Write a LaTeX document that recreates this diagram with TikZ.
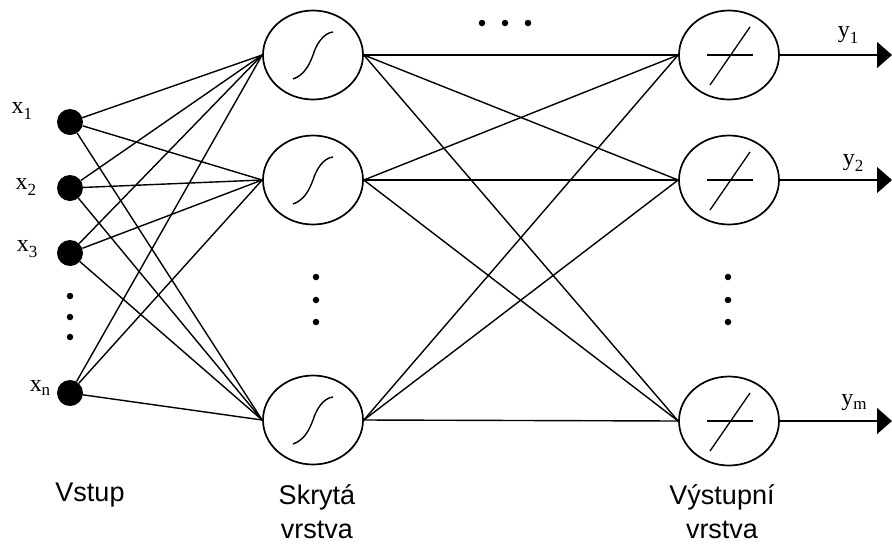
\documentclass[tikz,border=0pt]{standalone}
\usepackage{fontspec}
\setmainfont{Liberation Serif}
\newfontfamily\labelsans{Liberation Sans}
\usetikzlibrary{shapes.geometric,arrows.meta}
\begin{document}
\begin{tikzpicture}[x=1pt,y=-1pt,
  neuron/.style={draw,line width=1.7pt,ellipse,minimum width=100pt,minimum height=89pt,inner sep=0pt},
  inp/.style={circle,fill=black,minimum size=26pt,inner sep=0pt},
  conn/.style={line width=1.4pt},
  sdot/.style={circle,fill=black,minimum size=6.5pt,inner sep=0pt},
  lab/.style={font=\fontsize{24}{24}\selectfont,inner sep=0pt},
  caption/.style={font=\labelsans\fontsize{27}{34}\selectfont,align=center,inner sep=0pt},
  outarrow/.style={line width=1.6pt,-{Triangle[length=15pt,width=26pt]}}]
\useasboundingbox (0,0) rectangle (892,547);
% input nodes
\node[inp] (i1) at (70,122) {};
\node[inp] (i2) at (70,188) {};
\node[inp] (i3) at (70,253) {};
\node[inp] (in) at (70,393) {};
\node[sdot] (vd1) at (70,296) {};
\node[sdot] (vd2) at (70,317) {};
\node[sdot] (vd3) at (70,337) {};
% hidden
\node[neuron] (h1) at (313,55) {};
\node[neuron] (h2) at (313,180) {};
\node[neuron] (h3) at (313,420) {};
\node[sdot] (hd1) at (316,277) {};
\node[sdot] (hd2) at (316,300) {};
\node[sdot] (hd3) at (316,322) {};
% output
\node[neuron] (o1) at (729,55) {};
\node[neuron] (o2) at (729,180) {};
\node[neuron] (o3) at (729,421) {};
\node[sdot] (od1) at (728,277) {};
\node[sdot] (od2) at (728,300) {};
\node[sdot] (od3) at (728,322) {};
% top dots
\node[sdot] (td1) at (482,23) {};
\node[sdot] (td2) at (505,23) {};
\node[sdot] (td3) at (528,23) {};
% sigmoid curves
\foreach \h in {h1,h2,h3}{
  \draw[line width=1.4pt] ([shift={(-20,24)}]\h.center) .. controls ([shift={(-8,20)}]\h.center) and ([shift={(-3,8)}]\h.center) .. ([shift={(0,0)}]\h.center)
     .. controls ([shift={(3,-10)}]\h.center) and ([shift={(10,-22)}]\h.center) .. ([shift={(20,-23)}]\h.center);
}
% linear symbols
\foreach \o in {o1,o2,o3}{
  \draw[line width=1.3pt] ([shift={(-22,0)}]\o.center) -- ([shift={(24,0)}]\o.center);
  \draw[line width=1.3pt] ([shift={(-19,30)}]\o.center) -- ([shift={(21,-28)}]\o.center);
}
% input to hidden
\foreach \i in {i1,i2,i3,in}{
  \foreach \h in {h1,h2,h3}{
    \draw[conn] (\i) -- (\h.west);
  }
}
% hidden to output
\foreach \h in {h1,h2,h3}{
  \foreach \o in {o1,o2,o3}{
    \draw[conn] (\h.east) -- (\o.west);
  }
}
% outputs
\coordinate (e1) at (892,55);
\coordinate (e2) at (892,180);
\coordinate (e3) at (892,421);
\draw[outarrow] (o1.east) -- (e1);
\draw[outarrow] (o2.east) -- (e2);
\draw[outarrow] (o3.east) -- (e3);
% labels
\node[lab] (lx1) at (22,111) {x\raisebox{-6pt}{\fontsize{17}{17}\selectfont 1}};
\node[lab] (lx2) at (26,187) {x\raisebox{-6pt}{\fontsize{17}{17}\selectfont 2}};
\node[lab] (lx3) at (27,249) {x\raisebox{-6pt}{\fontsize{17}{17}\selectfont 3}};
\node[lab] (lxn) at (40,388) {x\raisebox{-4pt}{\fontsize{17}{17}\selectfont n}};
\node[lab] (ly1) at (848,35) {y\raisebox{-6pt}{\fontsize{17}{17}\selectfont 1}};
\node[lab] (ly2) at (853,163) {y\raisebox{-6pt}{\fontsize{17}{17}\selectfont 2}};
\node[lab] (lym) at (854,403) {y\raisebox{-4pt}{\fontsize{17}{17}\selectfont m}};
% captions
\node[caption] (c1) at (90,495) {Vstup};
\node[caption] (c2) at (317,512) {Skrytá\\vrstva};
\node[caption] (c3) at (722,512) {Výstupní\\vrstva};
\end{tikzpicture}
\end{document}
